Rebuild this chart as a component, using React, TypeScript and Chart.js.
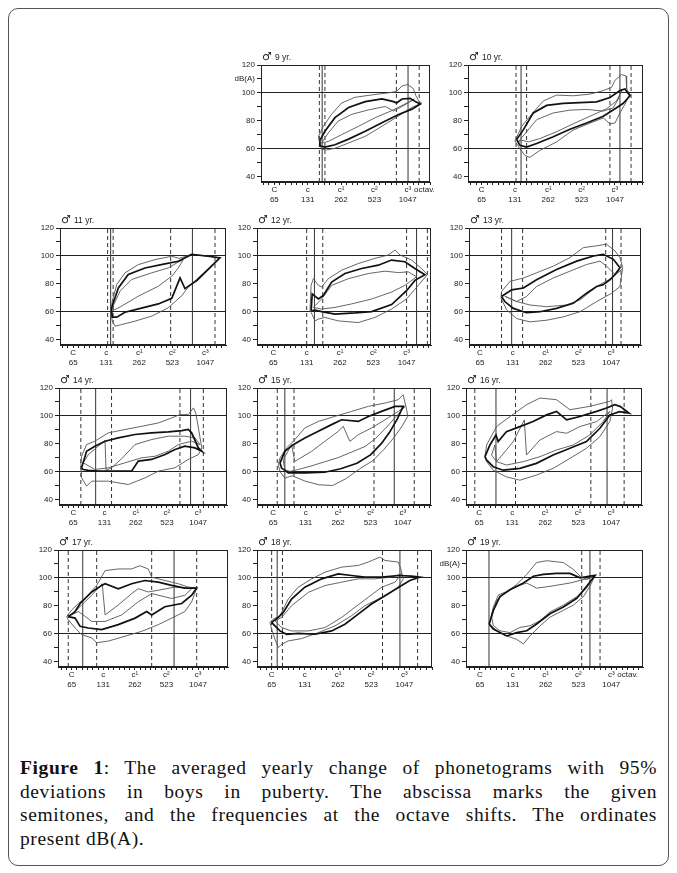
import React, { useEffect, useRef } from "react";
import { Chart, registerables } from "chart.js";
Chart.register(...registerables);

// ---- axis labels ----
const NOTE_POS = [0, 12, 24, 36, 48];
const NOTE_NAMES = ["C", "c", "c¹", "c²", "c³"];
const NOTE_FREQS = ["65", "131", "262", "523", "1047"];
const DB_TICKS = [40, 50, 60, 70, 80, 90, 100, 110, 120];
const DB_GRID = [60, 100];
const OCTAV_POS = 54;

// ---- data: [semitones above C(65 Hz), dB(A)] ----
const p09Outer = [[15.8,68.3],[17.6,76],[20.6,84.6],[24.2,92.7],[29,96.8],[35,98.5],[41,100],[44,101],[45.9,104.9],[48,106],[50,103],[50.9,98],[51.9,94.4],[53,92.7],[49.5,89.5],[44.7,83.4],[38.7,76],[32.7,68.8],[26.7,64],[21.8,60.2],[18.8,59],[17,59.5],[15.8,68.3]];
const p09Mean = [[16.4,65.9],[18.2,72.4],[21.8,82.2],[26.7,89.5],[32.7,93.7],[38.7,95.6],[42.9,93.7],[44,92.7],[45.9,95.6],[48.9,96.1],[50.7,93.7],[52.5,92],[49.5,88.3],[44.7,84.4],[38.7,78.5],[32.7,72.4],[26.7,66.8],[21.8,62.7],[18.2,61],[16.4,62],[16.4,65.9]];
const p09Inner = [[17,63.9],[19.4,71.2],[23,79.8],[27.9,84.6],[33.9,87.8],[39.9,90.2],[42.9,87],[45.9,90.2],[48.9,93.7],[50.4,95.6],[47,92],[42,87],[36.3,82.2],[30.3,76],[24.2,70],[19.4,65.1],[17,63.9]];
const p09Solid = [17.2, 48.1];
const p09Dashed = [16.2, 18.2, 43.9, 52.1];

const p10Outer = [[12,65.5],[14.4,75.8],[17.4,83.2],[22.2,94.2],[27,98.4],[33,97.9],[39,99.1],[43.8,101.6],[46.8,104],[48,109],[50.4,113.1],[52,112.1],[52.2,102.8],[53.4,99.1],[51.6,91.8],[49.8,85.6],[48,78.3],[46.2,77.8],[43.8,82],[39,78.3],[33,73.4],[27,64.8],[21,58.7],[17.4,53.7],[15.6,55],[13.8,59.9],[12,65.5]];
const p10Mean = [[12.6,66.5],[15,73.4],[18.6,85.6],[23.4,91],[29.4,92.5],[35.4,93],[41.4,93.5],[46.2,96.7],[49.8,101.6],[51.6,102.8],[53.4,97.9],[51,92.5],[48.6,89.3],[43.8,83.2],[37.8,78.3],[31.8,73.9],[25.8,68.5],[19.8,63.6],[16.2,61.1],[13.8,62.3],[12.6,66.5]];
const p10Inner = [[13.2,64.8],[16.2,72.1],[19.8,80.7],[25.8,85.6],[31.8,87.6],[37.8,88.1],[43.8,86.9],[47.4,89.3],[49.2,95.5],[50.4,101.6],[48.6,94.2],[45,88.6],[39,83.2],[33,77.8],[27,72.1],[21,67.2],[16.8,64.8],[14.4,66],[13.2,64.8]];
const p10Solid = [14.2, 49.8];
const p10Dashed = [12.4, 16.2, 46.2, 53.8];

const p11Outer = [[13.7,60.3],[14.2,67.5],[15.8,79.4],[18.8,87.8],[23.6,93.7],[29.7,97.3],[35.8,99.7],[38.5,98.2],[43,101],[49.1,99.7],[53.3,98.5],[47,87],[41.5,77],[39.5,71.5],[34.5,62.7],[28.5,56.7],[22.4,53.1],[17.6,50.7],[15.2,49.5],[14.2,53.1],[13.7,60.3]];
const p11Mean = [[13.9,62],[14.5,66],[16.4,77],[20,86.6],[26.1,91.3],[33.3,94.2],[38.2,96.1],[43,101],[49.1,99.7],[53.3,98.5],[45,82.5],[40.6,76.5],[38.8,84.2],[35.8,69.5],[30.9,65.5],[24.8,62.5],[18.8,59.5],[15.8,56],[14.2,56],[13.9,62]];
const p11Inner = [[14.5,64],[17,74.6],[21.2,83],[28.5,87.8],[34.5,91.3],[38.2,95.6],[40,97.3],[38.2,91.3],[35.8,85.4],[30.9,78.2],[23.6,71],[17.6,63.9],[14.5,60.8],[14.5,64]];
const p11Solid = [13.6, 43.3];
const p11Dashed = [12.5, 14.5, 35.4, 51.5];

const p12Outer = [[13.2,60.6],[13.6,78.8],[14.4,83.6],[16.2,78.8],[17.4,77.6],[19.8,83.6],[24.6,89.7],[30.6,94.5],[36.6,98.2],[41.4,100.6],[43.8,104.2],[45.6,100.6],[49.8,97],[53.4,90.9],[55.5,86.5],[52.2,78.8],[48,69.1],[42.6,61.8],[36.6,55.8],[30.6,52.1],[23.4,53.3],[18.6,55.8],[16.2,54.6],[15,53.3],[13.6,59.4],[13.2,60.6]];
const p12Mean = [[13.6,60.6],[14,72.7],[16.2,69.1],[18,71.5],[21,81.2],[25.8,87.3],[31.8,90.9],[37.8,93.3],[42.6,97],[47.4,95.8],[51,90.9],[54.6,86.5],[51,82.4],[48,75],[42.6,65],[35.4,60],[29.4,59],[22.2,58.2],[17.4,60],[15,61],[13.6,60.6]];
const p12Inner = [[14.4,63],[17.4,69.1],[21,78.8],[27,83.6],[34.2,87.3],[40.2,89],[45,88],[48.6,88.5],[51.6,85],[47.4,78.8],[42.6,74],[35.4,69],[28.2,65.5],[22.2,63],[17.4,61.8],[14.4,63]];
const p12Solid = [14.8, 51.6];
const p12Dashed = [12, 17.8, 48, 55.5];

const p13Outer = [[7.7,69.6],[7.9,74.4],[11,81.7],[15.9,84.1],[20.7,87.8],[26.8,92.6],[32.9,98.7],[37.8,105.9],[42.7,107.2],[46.3,108.4],[49.4,103.5],[51.2,98.7],[52.2,91.4],[51.2,78],[48.2,73.2],[42.7,67.2],[36.6,59.9],[30.5,56.2],[24.4,53.8],[18.3,52.6],[13.4,55],[9.8,61.1],[7.7,69.6]];
const p13Mean = [[7.9,70.8],[11.6,75.6],[15.9,76.9],[20.7,82.9],[28,90.2],[35.4,96.2],[41.5,99.9],[45.1,101.1],[48.8,97.5],[51.2,91.4],[49.4,86.6],[47.6,82.9],[45.1,79.3],[42.7,78],[39,73.2],[34.1,65.9],[28,62.3],[22,59.9],[17,59.2],[12.2,62.3],[9.1,67.2],[7.9,70.8]];
const p13Inner = [[9.1,71],[13.4,67.2],[17,70.8],[20.7,78],[26.8,84.1],[32.9,89],[39,93.8],[43.9,96.2],[46.3,92.6],[49.4,86.6],[51.8,90.2],[48.2,84.1],[42.7,78],[36.6,68.4],[31.7,64.7],[24.4,63.5],[18.3,64.7],[13.4,67.2],[9.1,71]];
const p13Solid = [11.6, 48.5];
const p13Dashed = [7.9, 15.6, 46, 51.6];

const p14Outer = [[2.9,65.1],[3.2,71],[5.1,79.4],[8.3,81.8],[13.5,87.8],[19.9,90.2],[26.3,92.5],[32.7,94.9],[37.8,98.5],[41,100.9],[44.2,100.9],[46.2,105.7],[47.1,102],[48.1,91.3],[49.4,77],[48.1,72.2],[44.2,68.7],[39.1,62.7],[32.7,60.3],[27.6,55.5],[21.2,50.7],[13.5,53.1],[7.1,53.1],[5.1,49.6],[3.2,55.5],[2.9,65.1]];
const p14Mean = [[3.2,62.7],[5.1,74.6],[8.3,78.2],[12.2,81.8],[17.3,84.2],[23.7,86.6],[30.1,87.8],[36.5,88.5],[41.7,89.4],[44.2,90.2],[45.5,87.8],[48.1,77],[49.4,74.6],[46.8,77],[42.9,78.2],[39.1,75.8],[35.3,72.2],[30.1,68.7],[25,67.5],[22.4,60.3],[16,60.3],[9.6,60.3],[5.8,60.8],[3.8,61.5],[3.2,62.7]];
const p14Inner = [[3.8,66.3],[5.8,72.2],[12.2,82.3],[12.6,60.8],[14.7,62.7],[19,70],[23.7,79.4],[30.1,83],[36.5,85.4],[42.9,85.4],[46.8,84.2],[48.7,79.4],[45.5,81.8],[40.4,79.4],[36.5,74.6],[31.4,71],[26.3,69.9],[19.9,66.3],[13.5,62.7],[8.3,61.5],[3.8,66.3]];
const p14Solid = [8.6, 45.1];
const p14Dashed = [2.9, 14.7, 41, 50];

const p15Outer = [[1.9,64.9],[2.5,69.7],[4.9,76.9],[7.4,81.7],[11.7,91.3],[16.7,96],[22.8,99.6],[29,103.2],[35.2,106.8],[41.4,109.2],[46.3,111.6],[48.1,115.2],[49.4,104.4],[49.8,99.6],[47.5,92],[44.5,84],[41,76],[37,68],[32,62],[27,55],[22,50],[17,50.5],[12,53],[7,57],[4.3,55.3],[2.5,60],[1.9,64.9]];
const p15Mean = [[2.5,66.1],[4.3,74.5],[7.4,79.3],[11.7,84.1],[16.7,88.9],[21.6,93.7],[25.3,97.2],[31.5,96],[35.2,99.6],[40.1,103.2],[45.1,106.8],[48.1,106.8],[46,98],[43,88],[40,80],[36,72],[31,66],[25,62],[19,59.5],[12,59],[8,59],[5.6,59],[3.1,62.5],[2.5,66.1]];
const p15Inner = [[3.7,68.5],[6.8,79.3],[8,67.3],[14.2,74.5],[19.1,81.7],[24.1,88.9],[25.9,92.5],[28.4,81.7],[31.5,86.5],[36.4,91.3],[41.4,97.2],[46.3,103.2],[48.8,106.8],[45.7,100],[42,92],[38,84],[34,78],[29,74],[24,70],[19,67],[14,64],[9.3,61.5],[6.2,60.1],[4.3,61.3],[3.7,68.5]];
const p15Solid = [4.3, 44.8];
const p15Dashed = [1.5, 7.7, 37.3, 52.2];

const p16Outer = [[2.1,70.7],[2.7,79.1],[6.3,92.3],[11.2,99.5],[17.2,108],[22.1,112.8],[28.1,111.6],[33,104.4],[40.2,106.8],[47.5,110.4],[48.1,111.6],[48.5,105.6],[47.5,95.9],[43.9,85.1],[39,76.7],[33,69.5],[26.9,62.3],[20.8,57.5],[14.8,53.8],[9.9,56.2],[5.1,61],[2.7,67.1],[2.1,70.7]];
const p16Mean = [[2.1,70.7],[3.9,79.1],[6.1,86.3],[6.9,81.5],[9.9,88.7],[14.8,92.3],[19.6,95.9],[24.5,100.7],[28.1,103.2],[31.8,97.1],[36.6,99.5],[42.7,103.2],[46.3,105.6],[49.3,108],[51.2,106.8],[54.5,102],[51,103],[47.5,100.7],[43.9,91.1],[39,81.5],[33,76.7],[26.9,71.9],[20.8,65.9],[14.8,62.3],[8.7,61],[5.1,63.5],[2.7,68.3],[2.1,70.7]];
const p16Inner = [[4.5,71.9],[5.7,79.1],[6.3,67.1],[12.4,81.5],[16.4,97.1],[17.2,71.9],[22.1,82.7],[28.1,88.7],[31.8,87.5],[36.6,92.3],[42.7,95.9],[47.5,103.2],[45.1,95.9],[40.2,86.3],[34.2,79.1],[28.1,75.5],[22.1,70.7],[16,67.1],[9.9,64.7],[6.3,67.1],[4.5,71.9]];
const p16Solid = [6.1, 46.5];
const p16Dashed = [-1.6, 13.2, 40.6, 52.7];

const p17Outer = [[-1.9,72.2],[0,76.9],[2.5,81.6],[5.7,86.4],[9.5,94.6],[12.7,105.2],[17.7,106.4],[22.8,106.4],[25.9,108.7],[29.1,106.4],[30.4,100.5],[35.4,98.1],[40.5,95.8],[44.3,93.4],[47.5,92.7],[45.6,82.8],[43,75.8],[38,71.1],[32.9,66.4],[26.6,61.6],[20.3,58.1],[13.9,54.6],[9.5,53.4],[7.6,56.9],[3.8,59.3],[1.3,64],[-1.3,69.9],[-1.9,72.2]];
const p17Mean = [[-1.3,72.2],[1.3,75.8],[3.2,81.6],[7.6,89.9],[11.4,94.6],[12.7,95.8],[17.7,92.2],[22.8,95.8],[27.8,98.1],[32.9,96.9],[38,94.6],[43,92.7],[47.5,92.7],[45.6,87.5],[41.8,81.6],[35.4,79.3],[30.4,73.4],[28.5,75.8],[24.1,71.1],[17.7,66.4],[11.4,62.8],[6.3,64],[3.2,65.2],[1.3,71.1],[-1.3,72.2]];
const p17Inner = [[0,73.4],[3.8,80.5],[7.6,87.5],[11.6,95.8],[12.7,73.4],[17.7,80.5],[22.8,88.7],[25.3,92.2],[29.1,89.9],[32.9,91.1],[39.2,93.4],[45.6,92.2],[43,87.5],[38,85.2],[30.4,88.7],[25.3,82.8],[19,73.4],[12.7,68.7],[7.6,68.7],[4.4,73.4],[2.5,75.8],[0,73.4]];
const p17Solid = [4.2, 38.9];
const p17Dashed = [-1.3, 9.5, 30.4, 47.5];

const p18Outer = [[-0.6,68],[0.6,70.4],[3,72.8],[6,84.8],[9.6,93.3],[14.5,99.3],[19.3,104.1],[25.3,107.7],[31.3,108.9],[34.9,111.3],[39.2,114.9],[41,112.5],[45.8,111.3],[46.7,106.5],[47.6,99.3],[45.8,93.3],[42.2,88.4],[38.6,84.8],[33.7,80],[28.9,72.8],[22.9,65.5],[16.9,60.7],[10.8,56.4],[6,54.7],[3.6,52.3],[2.4,49.9],[1.2,55.9],[0,63.1],[-0.6,68]];
const p18Mean = [[0,68],[2.4,71.6],[4.2,75.2],[7.2,84.8],[12,93.3],[18.1,99.3],[24.1,102.9],[28.9,101.7],[33.7,100.5],[39.8,100.5],[45.8,101.7],[50.6,101.2],[53.6,100.5],[50,98.1],[47,94.5],[41,87.2],[36.1,81.2],[31.3,74],[26.5,66.7],[21.7,61.9],[15.7,59.5],[9.6,60.2],[5.4,59.5],[3,61.9],[1.2,65.5],[0,68]];
const p18Inner = [[1.2,69.2],[3.6,71.6],[7.2,80],[13.3,89.6],[19.3,94.5],[25.3,96.9],[31.3,99.3],[37.3,99.3],[43.4,100.5],[47,102.9],[44.6,96.9],[39.8,93.3],[34.9,86],[30.1,78.8],[25.3,71.6],[19.3,64.3],[13.3,61.9],[7.2,61.9],[3.6,64.3],[1.2,69.2]];
const p18Solid = [2, 46.4];
const p18Dashed = [0, 3.9, 40.1, 52.8];

const p19Outer = [[3.4,66.9],[4.9,79.1],[6.7,87.7],[9.8,90.2],[13.4,95.1],[17.1,102.5],[20.7,111],[24.4,112.3],[30.5,111],[34.1,106.1],[36.6,101.2],[39,98.8],[42.1,101.7],[40.2,93.9],[37.8,86.5],[34.1,80.4],[30.5,76.7],[25.6,71.8],[22,65.6],[18.3,58.3],[15.9,52.6],[13.4,55.8],[9.8,58.3],[6.1,62],[3.7,66.4],[3.4,66.9]];
const p19Mean = [[3.4,66.9],[4.9,76.7],[7.3,86.5],[11,91.4],[15.9,96.3],[19.5,101.2],[23.2,102.5],[28,103.2],[32.9,103.2],[36.6,100],[40.2,101.2],[42.1,101.7],[39,93.9],[35.4,85.3],[30.5,79.1],[25.6,74.2],[20.7,66.9],[17.1,62],[13.4,60.7],[9.8,58.3],[7.3,60.7],[4.9,63.2],[3.4,66.9]];
const p19Inner = [[4.3,71.8],[6.1,84],[9.8,90.2],[13.4,93.9],[17.1,96.3],[20.7,92.6],[25.6,93.9],[32.9,96.3],[39,99.3],[41.5,100.7],[39,92.6],[35.4,86.5],[30.5,80.4],[25.6,75.5],[22,69.3],[18.3,65.6],[14.6,64.4],[11,60.7],[7.3,62],[4.9,65.6],[4.3,71.8]];
const p19Solid = [3.3, 40.2];
const p19Dashed = [37.2, 43.9];

// ---- panel layout (page px of plot box) ----
const PANELS = [
  { title: "9 yr.", outer: p09Outer, mean: p09Mean, inner: p09Inner, solid: p09Solid, dashed: p09Dashed, xMin: -4.8, xMax: 56, left: 261, right: 430, top: 65, db: true, octav: true },
  { title: "10 yr.", outer: p10Outer, mean: p10Mean, inner: p10Inner, solid: p10Solid, dashed: p10Dashed, xMin: -4.9, xMax: 58.1, left: 468, right: 643, top: 65, db: false, octav: false },
  { title: "11 yr.", outer: p11Outer, mean: p11Mean, inner: p11Inner, solid: p11Solid, dashed: p11Dashed, xMin: -4.8, xMax: 55.5, left: 60, right: 226, top: 228, db: false, octav: false },
  { title: "12 yr.", outer: p12Outer, mean: p12Mean, inner: p12Inner, solid: p12Solid, dashed: p12Dashed, xMin: -5.9, xMax: 56.8, left: 257, right: 431, top: 228, db: false, octav: false },
  { title: "13 yr.", outer: p13Outer, mean: p13Mean, inner: p13Inner, solid: p13Solid, dashed: p13Dashed, xMin: -4, xMax: 58.9, left: 469, right: 641, top: 228, db: false, octav: false },
  { title: "14 yr.", outer: p14Outer, mean: p14Mean, inner: p14Inner, solid: p14Solid, dashed: p14Dashed, xMin: -5.5, xMax: 59.1, left: 59, right: 227, top: 388, db: false, octav: false },
  { title: "15 yr.", outer: p15Outer, mean: p15Mean, inner: p15Inner, solid: p15Solid, dashed: p15Dashed, xMin: -6, xMax: 58.4, left: 257, right: 431, top: 388, db: false, octav: false },
  { title: "16 yr.", outer: p16Outer, mean: p16Mean, inner: p16Inner, solid: p16Solid, dashed: p16Dashed, xMin: -4.8, xMax: 59.2, left: 466, right: 642, top: 388, db: false, octav: false },
  { title: "17 yr.", outer: p17Outer, mean: p17Mean, inner: p17Inner, solid: p17Solid, dashed: p17Dashed, xMin: -5.2, xMax: 59.4, left: 58, right: 228, top: 550, db: false, octav: false },
  { title: "18 yr.", outer: p18Outer, mean: p18Mean, inner: p18Inner, solid: p18Solid, dashed: p18Dashed, xMin: -5.3, xMax: 58, left: 257, right: 432, top: 550, db: false, octav: false },
  { title: "19 yr.", outer: p19Outer, mean: p19Mean, inner: p19Inner, solid: p19Solid, dashed: p19Dashed, xMin: -5.1, xMax: 59.6, left: 466, right: 643, top: 550, db: true, octav: true },
];

const Y_MIN = 36;
const Y_MAX = 120;
const YW = 26;
const PT = 16;
const PR = 12;
const XH = 28;
const PH = 117;
const OFF = 9;
const INK = "#222";
const SANS = '"Liberation Sans", Arial, sans-serif';

const decor = {
  id: "decor",
  afterDraw(chart: any, _args: any, opts: any) {
    const { ctx, chartArea: a } = chart;
    ctx.save();
    ctx.strokeStyle = INK;
    ctx.lineWidth = 1;
    ctx.strokeRect(Math.round(a.left) + 0.5, Math.round(a.top) + 0.5, Math.round(a.right - a.left) - 1, Math.round(a.bottom - a.top) - 1);
    ctx.fillStyle = INK;
    ctx.textBaseline = "alphabetic";
    ctx.font = '11px "DejaVu Sans", sans-serif';
    ctx.fillText("\u2642", a.left + 1, a.top - 5);
    ctx.font = "8.5px " + SANS;
    ctx.fillText(opts.title, a.left + 14, a.top - 5);
    ctx.restore();
  },
};

function toXY(arr: number[][]) {
  return arr.map(([x, y]) => ({ x, y }));
}

function PanelChart({ p }: { p: any }) {
  const ref = useRef<HTMLCanvasElement>(null);
  const w = YW + (p.right - p.left) + PR;
  const h = PT + PH + XH;
  useEffect(() => {
    const vline = (v: number, dashed: boolean) => ({
      data: [{ x: v, y: Y_MIN }, { x: v, y: Y_MAX }],
      showLine: true,
      borderColor: "#333",
      borderWidth: 1,
      borderDash: dashed ? [4, 3] : [],
      pointRadius: 0,
    });
    const loop = (arr: number[][], bold: boolean) => ({
      data: toXY(arr),
      showLine: true,
      borderColor: bold ? "#111" : "#555",
      borderWidth: bold ? 1.7 : 0.9,
      pointRadius: 0,
      tension: 0,
      fill: false,
    });
    const xTicks: number[] = [];
    for (let v = Math.ceil(p.xMin / 2) * 2; v <= p.xMax; v += 2) xTicks.push(v);
    const chart = new Chart(ref.current as HTMLCanvasElement, {
      type: "scatter",
      data: {
        datasets: [
          loop(p.mean, true),
          loop(p.outer, false),
          loop(p.inner, false),
          ...p.solid.map((v: number) => vline(v, false)),
          ...p.dashed.map((v: number) => vline(v, true)),
        ] as any,
      },
      options: {
        animation: false,
        responsive: false,
        maintainAspectRatio: false,
        devicePixelRatio: 1,
        layout: { padding: { top: PT, right: PR, left: 0, bottom: 0 } },
        plugins: {
          legend: { display: false },
          tooltip: { enabled: false },
          decor: { title: p.title },
        } as any,
        scales: {
          x: {
            type: "linear",
            min: p.xMin,
            max: p.xMax,
            afterBuildTicks: (s: any) => {
              s.ticks = xTicks.map((value) => ({ value }));
            },
            afterFit: (s: any) => {
              s.height = XH;
            },
            ticks: {
              autoSkip: false,
              maxRotation: 0,
              minRotation: 0,
              padding: 0,
              color: INK,
              font: { size: 8, family: SANS, lineHeight: 1.2 },
              callback: (v: any) => {
                const i = NOTE_POS.indexOf(v);
                if (i >= 0) return [NOTE_NAMES[i], NOTE_FREQS[i]];
                if (p.octav && v === OCTAV_POS) return ["octav.", ""];
                return "";
              },
            },
            grid: { drawOnChartArea: false, drawTicks: true, tickLength: 3, tickColor: INK, color: INK },
            border: { display: true, color: INK, width: 1 },
          },
          y: {
            type: "linear",
            min: Y_MIN,
            max: Y_MAX,
            afterBuildTicks: (s: any) => {
              s.ticks = DB_TICKS.map((value) => ({ value }));
            },
            afterFit: (s: any) => {
              s.width = YW;
            },
            ticks: {
              autoSkip: false,
              padding: 2,
              color: INK,
              font: { size: 8, family: SANS },
              callback: (v: any) => {
                if (v % 20 === 0) return String(v);
                if (p.db && v === 110) return "dB(A)";
                return "";
              },
            },
            grid: {
              drawOnChartArea: true,
              drawTicks: true,
              tickLength: 4,
              tickColor: INK,
              lineWidth: 1,
              color: (c: any) => (c.tick && DB_GRID.includes(c.tick.value) ? INK : "rgba(0,0,0,0)"),
            },
            border: { display: true, color: INK, width: 1 },
          },
        },
      } as any,
      plugins: [decor],
    });
    return () => chart.destroy();
  }, []);
  return (
    <canvas
      ref={ref}
      width={w}
      height={h}
      style={{ position: "absolute", left: p.left - YW - OFF, top: p.top - PT - OFF, width: w, height: h }}
    />
  );
}

const CAPTION_LINES = [
  "The averaged yearly change of phonetograms with 95%",
  "deviations in boys in puberty. The abscissa marks the given",
  "semitones, and the frequencies at the octave shifts. The ordinates",
  "present dB(A).",
];

export default function App() {
  const lineStyle = (last: boolean): React.CSSProperties => ({
    textAlign: last ? "left" : "justify",
    textAlignLast: last ? "left" : "justify",
    whiteSpace: "nowrap",
    height: 23.5,
    lineHeight: "23.5px",
  });
  return (
    <div
      style={{
        position: "relative",
        width: 661,
        height: 858,
        border: "1px solid #555",
        borderRadius: 10,
        boxSizing: "border-box",
        background: "#fff",
      }}
    >
      {PANELS.map((p) => (
        <PanelChart key={p.title} p={p} />
      ))}
      <div
        style={{
          position: "absolute",
          left: 20 - OFF,
          top: 756 - OFF,
          width: 637,
          fontFamily: '"Liberation Serif", "Times New Roman", serif',
          fontSize: 19.5,
          letterSpacing: 0.6,
          color: "#111",
        }}
      >
        <div style={lineStyle(false)}>
          <b>Figure 1</b>: {CAPTION_LINES[0]}
        </div>
        <div style={lineStyle(false)}>{CAPTION_LINES[1]}</div>
        <div style={lineStyle(false)}>{CAPTION_LINES[2]}</div>
        <div style={lineStyle(true)}>{CAPTION_LINES[3]}</div>
      </div>
    </div>
  );
}
